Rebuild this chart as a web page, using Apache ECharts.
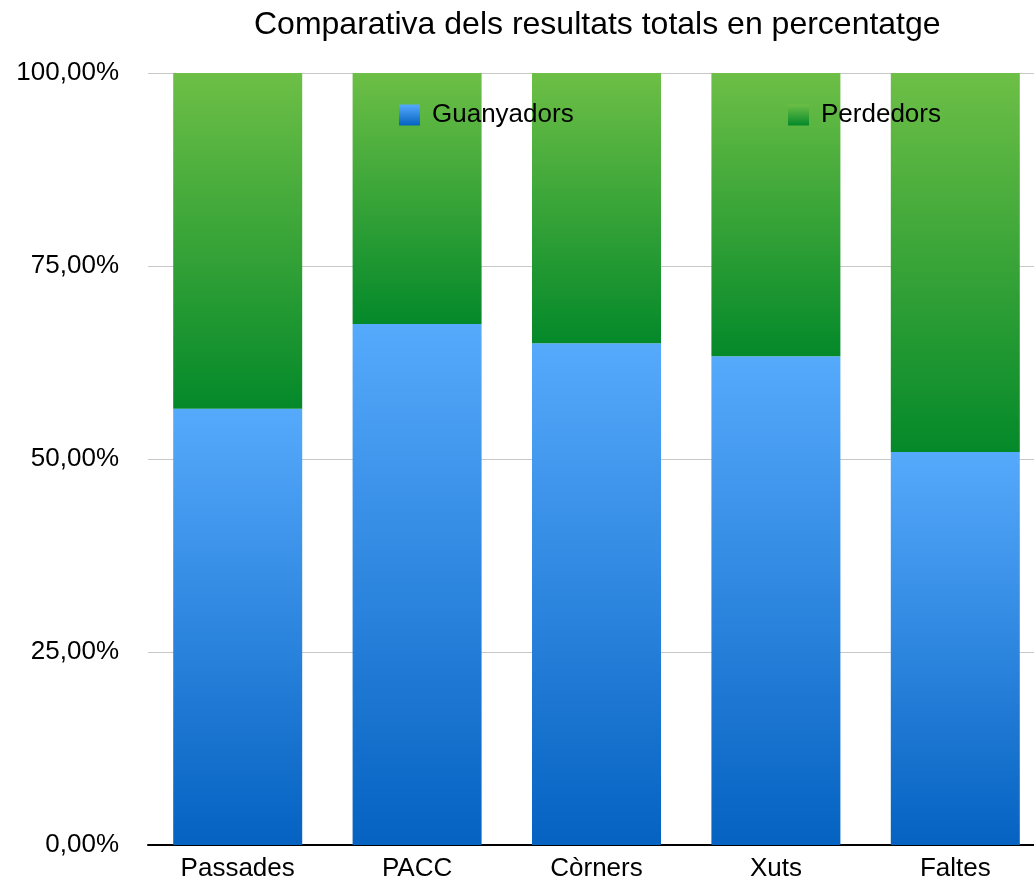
<!DOCTYPE html>
<html>
<head>
<meta charset="utf-8">
<script src="https://cdn.jsdelivr.net/npm/echarts@6/dist/echarts.min.js"></script>
<style>
  html, body { margin: 0; padding: 0; background: #fff; overflow: hidden; }
  /* the plot runs slightly past the right edge of the window */
  #chart { width: 1045px; height: 882px; }
</style>
</head>
<body>
<div id="chart"></div>
<script>
// Categories and share of each group (percent)
const categories = ['Passades', 'PACC', 'Còrners', 'Xuts', 'Faltes'];
const guanyadors = [56.5, 67.5, 65.0, 63.3, 50.9];
const perdedors = [43.5, 32.5, 35.0, 36.7, 49.1];
const yTicks = [0, 25, 50, 75, 100];

const font = '"Liberation Sans", Arial, Helvetica, sans-serif';

const blueGrad = new echarts.graphic.LinearGradient(0, 0, 0, 1, [
  { offset: 0, color: '#56aafc' },
  { offset: 1, color: '#0562c1' }
]);
const greenGrad = new echarts.graphic.LinearGradient(0, 0, 0, 1, [
  { offset: 0, color: '#6dbf46' },
  { offset: 1, color: '#04892a' }
]);

const chart = echarts.init(document.getElementById('chart'));
chart.setOption({
  animation: false,
  backgroundColor: '#ffffff',
  title: {
    text: 'Comparativa dels resultats totals en percentatge',
    left: 249, top: 4,
    textStyle: { fontFamily: font, fontSize: 32, fontWeight: 'normal', color: '#000' }
  },
  legend: [
    {
      data: ['Guanyadors'], left: 394, top: 97,
      itemWidth: 21, itemHeight: 21, icon: 'rect',
      textStyle: { fontFamily: font, fontSize: 26, color: '#000', padding: [0, 0, 0, 7] }
    },
    {
      data: ['Perdedors'], left: 783, top: 97,
      itemWidth: 21, itemHeight: 21, icon: 'rect',
      textStyle: { fontFamily: font, fontSize: 26, color: '#000', padding: [0, 0, 0, 7] }
    }
  ],
  grid: { left: 148, top: 73, right: 0, bottom: 37, containLabel: false },
  xAxis: {
    type: 'category',
    data: categories,
    axisLine: { lineStyle: { color: '#000', width: 2 } },
    axisTick: { show: false },
    axisLabel: { fontFamily: font, fontSize: 26, color: '#000', margin: 11 }
  },
  yAxis: {
    type: 'value',
    min: 0, max: 100, interval: 25,
    axisLine: { show: false },
    axisTick: { show: false },
    splitLine: { lineStyle: { color: '#c8c8c8', width: 1 } },
    axisLabel: {
      fontFamily: font, fontSize: 26, color: '#000', margin: 29,
      formatter: v => yTicks.includes(v) ? v.toFixed(2).replace('.', ',') + '%' : ''
    }
  },
  series: [
    {
      name: 'Guanyadors', type: 'bar', stack: 'total',
      data: guanyadors, barWidth: 129,
      itemStyle: { color: blueGrad }
    },
    {
      name: 'Perdedors', type: 'bar', stack: 'total',
      data: perdedors, barWidth: 129,
      itemStyle: { color: greenGrad }
    }
  ]
});
</script>
</body>
</html>
